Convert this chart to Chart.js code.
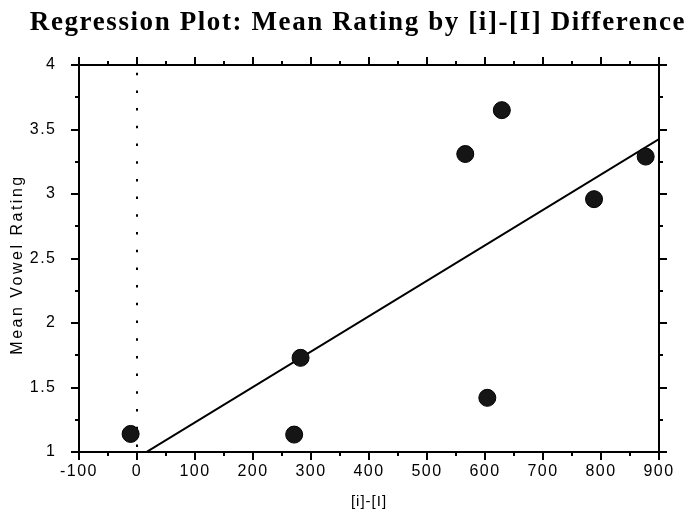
<!DOCTYPE html>
<html>
<head>
<meta charset="utf-8">
<script src="https://cdn.jsdelivr.net/npm/chart.js@4.4.1/dist/chart.umd.min.js"></script>
<style>
  html, body { margin: 0; padding: 0; background: #fff; }
  #wrap { width: 693px; height: 525px; }
</style>
</head>
<body>
<div id="wrap"><canvas id="c" width="693" height="525"></canvas></div>
<script>
// Labels
const titleText = 'Regression Plot: Mean Rating by [i]-[I] Difference';
const xAxisTitle = '[i]-[I]';
const yAxisTitle = 'Mean Vowel Rating';

// Observations: [i]-[I] difference and mean vowel rating
const diffValues = [-11, 271, 282, 566, 629, 604, 788, 877];
const meanRatings = [1.14, 1.135, 1.73, 3.31, 3.65, 1.42, 2.96, 3.29];

// Axis ticks
const xTickValues = [-100, 0, 100, 200, 300, 400, 500, 600, 700, 800, 900];
const yTickValues = [1, 1.5, 2, 2.5, 3, 3.5, 4];

// Vertical reference line position
const referenceX = 0;

// Ordinary least-squares fit of rating on difference
function leastSquares(xs, ys) {
  const n = xs.length;
  const mx = xs.reduce((a, b) => a + b, 0) / n;
  const my = ys.reduce((a, b) => a + b, 0) / n;
  let sxy = 0, sxx = 0;
  for (let i = 0; i < n; i++) {
    sxy += (xs[i] - mx) * (ys[i] - my);
    sxx += (xs[i] - mx) * (xs[i] - mx);
  }
  const slope = sxy / sxx;
  return { slope, intercept: my - slope * mx };
}
const fit = leastSquares(diffValues, meanRatings);
const xMin = xTickValues[0];
const xMax = xTickValues[xTickValues.length - 1];
const yMin = yTickValues[0];
const yMax = yTickValues[yTickValues.length - 1];
const fitLine = [xMin, xMax].map(x => ({ x, y: fit.intercept + fit.slope * x }));

const points = diffValues.map((x, i) => ({ x, y: meanRatings[i] }));

const sans = "'Liberation Sans', Arial, Helvetica, sans-serif";
const serif = "'Liberation Serif', 'Times New Roman', serif";

// Wrap a draw method so its text uses the given letter spacing (and optional shift)
function withSpacing(obj, method, spacing, dx = 0, dy = 0) {
  if (!obj || obj['__spaced_' + method]) return;
  const orig = obj[method];
  obj[method] = function (...args) {
    const ctx = this.ctx || (this.chart && this.chart.ctx);
    ctx.save();
    ctx.letterSpacing = spacing;
    ctx.translate(dx, dy);
    const r = orig.apply(this, args);
    ctx.restore();
    return r;
  };
  obj['__spaced_' + method] = true;
}

const spacingPlugin = {
  id: 'spacing',
  afterLayout(chart) {
    withSpacing(chart.titleBlock, 'draw', '1.6px');
    withSpacing(chart.scales.x, 'drawLabels', '1.5px');
    withSpacing(chart.scales.y, 'drawLabels', '1.5px');
    withSpacing(chart.scales.x, 'drawTitle', '1px');
    withSpacing(chart.scales.y, 'drawTitle', '2.5px', 0, 6);
  }
};

// Box frame with outward major/minor tick marks on all four sides
const framePlugin = {
  id: 'frame',
  afterDatasetsDraw(chart) {
    const { ctx, chartArea: { left, right, top, bottom } } = chart;
    const xs = chart.scales.x, ys = chart.scales.y;
    const ext = 8, major = 8, minor = 4;
    ctx.save();
    ctx.strokeStyle = '#000';
    ctx.lineWidth = 2;
    ctx.lineCap = 'butt';
    ctx.beginPath();
    ctx.moveTo(left - ext, top); ctx.lineTo(right + ext, top);
    ctx.moveTo(left - ext, bottom); ctx.lineTo(right + ext, bottom);
    ctx.moveTo(left, top - ext); ctx.lineTo(left, bottom + ext);
    ctx.moveTo(right, top - ext); ctx.lineTo(right, bottom + ext);

    const xMarks = [];
    xTickValues.forEach((v, i) => {
      xMarks.push([v, major]);
      if (i < xTickValues.length - 1) xMarks.push([(v + xTickValues[i + 1]) / 2, minor]);
    });
    xMarks.forEach(([v, len]) => {
      const px = Math.round(xs.getPixelForValue(v));
      ctx.moveTo(px, bottom); ctx.lineTo(px, bottom + len);
      ctx.moveTo(px, top); ctx.lineTo(px, top - len);
    });

    const yMarks = [];
    yTickValues.forEach((v, i) => {
      yMarks.push([v, major]);
      if (i < yTickValues.length - 1) yMarks.push([(v + yTickValues[i + 1]) / 2, minor]);
    });
    yMarks.forEach(([v, len]) => {
      const py = Math.round(ys.getPixelForValue(v));
      ctx.moveTo(left, py); ctx.lineTo(left - len, py);
      ctx.moveTo(right, py); ctx.lineTo(right + len, py);
    });
    ctx.stroke();
    ctx.restore();
  }
};

new Chart(document.getElementById('c'), {
  data: {
    datasets: [
      {
        type: 'scatter',
        data: points,
        pointRadius: 8.5,
        pointHoverRadius: 8.5,
        backgroundColor: '#151515',
        borderColor: '#000',
        borderWidth: 1,
        order: 1
      },
      {
        type: 'line',
        data: fitLine,
        borderColor: '#000',
        borderWidth: 2,
        pointRadius: 0,
        fill: false,
        tension: 0,
        order: 2
      },
      {
        type: 'line',
        data: [{ x: referenceX, y: yMax }, { x: referenceX, y: yMin }],
        borderColor: '#000',
        borderWidth: 2,
        borderDash: [2.5, 15.2],
        borderDashOffset: 10,
        pointRadius: 0,
        fill: false,
        order: 3
      }
    ]
  },
  options: {
    responsive: false,
    animation: false,
    devicePixelRatio: 1,
    events: [],
    layout: { padding: { left: 23, right: 0, top: 0, bottom: 0 } },
    plugins: {
      legend: { display: false },
      tooltip: { enabled: false },
      title: {
        display: true,
        text: titleText,
        color: '#000',
        font: { family: serif, size: 27, weight: 'bold' },
        padding: { top: 6.8, bottom: 25.8 }
      }
    },
    scales: {
      x: {
        type: 'linear',
        position: 'bottom',
        min: xMin,
        max: xMax,
        afterBuildTicks: s => { s.ticks = xTickValues.map(v => ({ value: v })); },
        afterFit: s => { s.height = 73; },
        grid: { display: false, drawTicks: false },
        border: { display: false },
        ticks: {
          color: '#000',
          font: { family: sans, size: 16 },
          padding: 10,
          maxRotation: 0,
          autoSkip: false,
          callback: v => String(v)
        },
        title: {
          display: true,
          text: xAxisTitle,
          color: '#000',
          font: { family: sans, size: 15 },
          padding: { top: 0, bottom: 14.6 }
        }
      },
      y: {
        type: 'linear',
        position: 'left',
        min: yMin,
        max: yMax,
        afterBuildTicks: s => { s.ticks = yTickValues.map(v => ({ value: v })); },
        afterFit: s => { s.width = 56; },
        grid: { display: false, drawTicks: false },
        border: { display: false },
        ticks: {
          color: '#000',
          font: { family: sans, size: 16 },
          padding: 22.5,
          autoSkip: false,
          callback: v => String(v)
        },
        title: {
          display: true,
          text: yAxisTitle,
          color: '#000',
          font: { family: sans, size: 16 },
          padding: { top: -15, bottom: 0 }
        }
      },
      yRight: {
        type: 'linear',
        position: 'right',
        min: yMin,
        max: yMax,
        display: true,
        afterFit: s => { s.width = 34; },
        grid: { display: false, drawTicks: false },
        border: { display: false },
        ticks: { display: false }
      }
    }
  },
  plugins: [spacingPlugin, framePlugin]
});
</script>
</body>
</html>
